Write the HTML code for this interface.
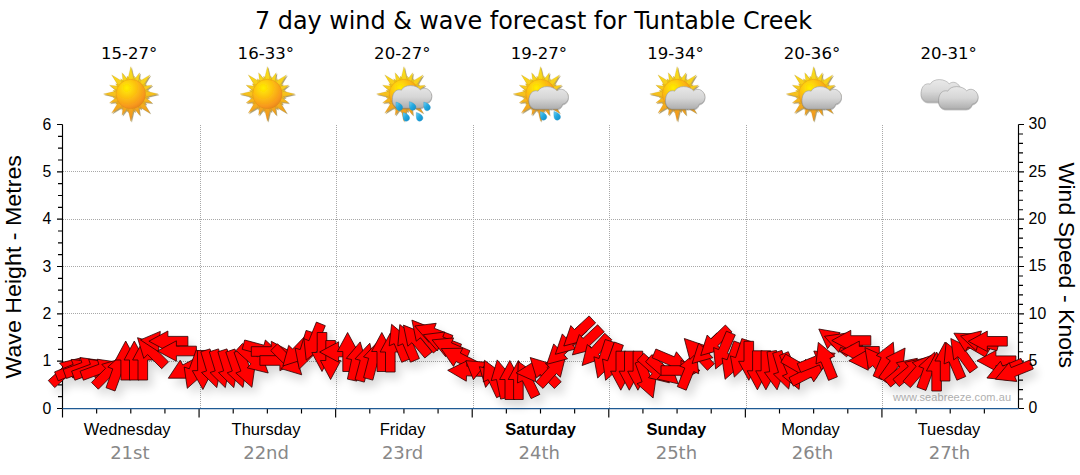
<!DOCTYPE html>
<html><head><meta charset="utf-8"><title>7 day wind &amp; wave forecast for Tuntable Creek</title>
<style>html,body{margin:0;padding:0;background:#fff;}svg{display:block}.ar{font-family:"Liberation Sans",Arial,sans-serif}.dw{font-family:"DejaVu Sans","Liberation Sans",sans-serif}.dv{font-family:"DejaVu Sans Condensed","DejaVu Sans","Liberation Sans",sans-serif}</style></head><body>
<svg width="1080" height="475" viewBox="0 0 1080 475">
<defs>

<radialGradient id="gSun" cx="-4" cy="-6" r="22" gradientUnits="userSpaceOnUse">
<stop offset="0" stop-color="#ffee00"/><stop offset="0.45" stop-color="#fcc010"/><stop offset="0.85" stop-color="#f7971d"/><stop offset="1" stop-color="#e8861c"/>
</radialGradient>
<linearGradient id="gRay" x1="0" y1="-27" x2="0" y2="27" gradientUnits="userSpaceOnUse">
<stop offset="0" stop-color="#f9e11a"/><stop offset="0.45" stop-color="#f7c61c"/><stop offset="1" stop-color="#f18f1f"/>
</linearGradient>
<linearGradient id="gCloud" x1="0" y1="-8" x2="0" y2="16" gradientUnits="userSpaceOnUse">
<stop offset="0" stop-color="#e9e9e9"/><stop offset="0.5" stop-color="#d6d6d6"/><stop offset="1" stop-color="#ababab"/>
</linearGradient>
<linearGradient id="gDrop" x1="-3" y1="-4" x2="3" y2="5" gradientUnits="userSpaceOnUse">
<stop offset="0" stop-color="#7fd4f5"/><stop offset="0.5" stop-color="#25aae1"/><stop offset="1" stop-color="#138cc8"/>
</linearGradient>
<filter id="fSoft" x="-20%" y="-20%" width="140%" height="140%"><feGaussianBlur stdDeviation="0.35"/></filter>
<filter id="fCl" x="-20%" y="-20%" width="140%" height="140%"><feGaussianBlur in="SourceAlpha" stdDeviation="0.6" result="b"/><feOffset in="b" dx="0.3" dy="0.5" result="o"/><feFlood flood-color="#555" flood-opacity="0.45"/><feComposite in2="o" operator="in" result="sh"/><feGaussianBlur in="SourceGraphic" stdDeviation="0.3" result="g"/><feMerge><feMergeNode in="sh"/><feMergeNode in="g"/></feMerge></filter>
<filter id="fSun" x="-20%" y="-20%" width="140%" height="140%"><feGaussianBlur in="SourceAlpha" stdDeviation="0.6" result="b"/><feOffset in="b" dx="0.5" dy="0.6" result="o"/><feFlood flood-color="#6b5200" flood-opacity="0.55"/><feComposite in2="o" operator="in" result="sh"/><feGaussianBlur in="SourceGraphic" stdDeviation="0.3" result="g"/><feMerge><feMergeNode in="sh"/><feMergeNode in="g"/></feMerge></filter>
<g id="sunshape" filter="url(#fSun)">
<path d="M3.40 -13.00L0.00 -27.30L-3.40 -13.00ZM11.60 -6.79L19.09 -19.09L6.79 -11.60ZM13.00 3.40L27.30 -0.00L13.00 -3.40ZM6.79 11.60L19.09 19.09L11.60 6.79ZM-3.40 13.00L0.00 27.30L3.40 13.00ZM-11.60 6.79L-19.09 19.09L-6.79 11.60ZM-13.00 -3.40L-27.30 0.00L-13.00 3.40ZM-6.79 -11.60L-19.09 -19.09L-11.60 -6.79ZM7.65 -10.90L8.80 -21.25L2.30 -13.12ZM13.12 -2.30L21.25 -8.80L10.90 -7.65ZM10.90 7.65L21.25 8.80L13.12 2.30ZM2.30 13.12L8.80 21.25L7.65 10.90ZM-7.65 10.90L-8.80 21.25L-2.30 13.12ZM-13.12 2.30L-21.25 8.80L-10.90 7.65ZM-10.90 -7.65L-21.25 -8.80L-13.12 -2.30ZM-2.30 -13.12L-8.80 -21.25L-7.65 -10.90ZM4.50 -12.36L3.57 -17.95L0.57 -13.14ZM8.89 -9.70L10.17 -15.22L5.56 -11.92ZM11.92 -5.56L15.22 -10.17L9.70 -8.89ZM13.14 -0.57L17.95 -3.57L12.36 -4.50ZM12.36 4.50L17.95 3.57L13.14 0.57ZM9.70 8.89L15.22 10.17L11.92 5.56ZM5.56 11.92L10.17 15.22L8.89 9.70ZM0.57 13.14L3.57 17.95L4.50 12.36ZM-4.50 12.36L-3.57 17.95L-0.57 13.14ZM-8.89 9.70L-10.17 15.22L-5.56 11.92ZM-11.92 5.56L-15.22 10.17L-9.70 8.89ZM-13.14 0.57L-17.95 3.57L-12.36 4.50ZM-12.36 -4.50L-17.95 -3.57L-13.14 -0.57ZM-9.70 -8.89L-15.22 -10.17L-11.92 -5.56ZM-5.56 -11.92L-10.17 -15.22L-8.89 -9.70ZM-0.57 -13.14L-3.57 -17.95L-4.50 -12.36Z" fill="url(#gRay)" stroke="#b98a1a" stroke-width="0.35" stroke-opacity="0.6"/>
<circle r="14.7" fill="url(#gSun)" stroke="#d98a14" stroke-width="0.5" stroke-opacity="0.7"/>
</g>
<g id="cloudshape" filter="url(#fCl)">
<path d="M-4 15.1C-8.5 15.1 -11.8 11.5 -11.6 6.5C-11.5 1.5 -9.5 -2.8 -5 -3.2C-4 -3.3 -3.2 -3.1 -2.5 -2.8C-1 -5.8 2.5 -7.4 6.5 -7.4C11 -7.4 14.5 -5.6 16.5 -3.2C18 -4.4 19.5 -4.8 21 -4.7C25 -4.4 28 -0.5 27.9 3.5C27.8 7 25.5 9.5 22 10.2C21.5 12.8 19 15.1 15.5 15.1Z" fill="url(#gCloud)" stroke="#999" stroke-width="0.6"/>
</g>
<path id="drop" d="M-1.6 -4.2C0.5 -3 3.2 -0.5 3.2 2C3.2 4 1.6 5.2 -0.2 5.2C-2.2 5.2 -3.4 3.6 -3.2 1.6C-3 -0.4 -2.2 -2.4 -1.6 -4.2Z" transform="rotate(-18)" fill="url(#gDrop)" stroke="#1a8fc9" stroke-width="0.3"/>
<g id="sun"><use href="#sunshape"/></g>
<g id="suncloud"><use href="#sunshape"/><use href="#cloudshape"/></g>
<g id="sunrain5"><use href="#sunshape"/><use href="#cloudshape" y="-1"/><use href="#drop" x="-5.1" y="11.6"/><use href="#drop" x="8.3" y="11.2"/><use href="#drop" x="22.7" y="11.6"/><use href="#drop" x="1.9" y="22"/><use href="#drop" x="15.2" y="22"/></g>
<g id="sunrain2"><use href="#sunshape"/><use href="#cloudshape"/><use href="#drop" x="2.5" y="21"/><use href="#drop" x="16.2" y="21"/></g>
<g id="clouds"><use href="#cloudshape" x="-17.5" y="-7" opacity="0.9"/><use href="#cloudshape"/></g>

</defs>
<rect width="1080" height="475" fill="#fff"/>
<text class="dv" x="533.5" y="29.2" font-size="25.5" text-anchor="middle" textLength="557" lengthAdjust="spacingAndGlyphs" fill="#000">7 day wind &amp; wave forecast for Tuntable Creek</text>
<text class="dw" x="101.0" y="58.8" font-size="15.6" textLength="56.4" lengthAdjust="spacingAndGlyphs" fill="#000">15-27°</text>
<use href="#sun" x="130.8" y="94"/>
<text class="dw" x="237.6" y="58.8" font-size="15.6" textLength="56.4" lengthAdjust="spacingAndGlyphs" fill="#000">16-33°</text>
<use href="#sun" x="267.4" y="94"/>
<text class="dw" x="374.1" y="58.8" font-size="15.6" textLength="56.4" lengthAdjust="spacingAndGlyphs" fill="#000">20-27°</text>
<use href="#sunrain5" x="403.9" y="94"/>
<text class="dw" x="510.7" y="58.8" font-size="15.6" textLength="56.4" lengthAdjust="spacingAndGlyphs" fill="#000">19-27°</text>
<use href="#sunrain2" x="540.5" y="94"/>
<text class="dw" x="647.3" y="58.8" font-size="15.6" textLength="56.4" lengthAdjust="spacingAndGlyphs" fill="#000">19-34°</text>
<use href="#suncloud" x="677.1" y="94"/>
<text class="dw" x="783.8" y="58.8" font-size="15.6" textLength="56.4" lengthAdjust="spacingAndGlyphs" fill="#000">20-36°</text>
<use href="#suncloud" x="813.6" y="94"/>
<text class="dw" x="920.4" y="58.8" font-size="15.6" textLength="56.4" lengthAdjust="spacingAndGlyphs" fill="#000">20-31°</text>
<use href="#clouds" x="950.2" y="94"/>
<path d="M62.5 361.2H1018.5 M62.5 313.8H1018.5 M62.5 266.5H1018.5 M62.5 219.2H1018.5 M62.5 171.8H1018.5 M200.1 124.5V408.5 M336.6 124.5V408.5 M473.2 124.5V408.5 M609.8 124.5V408.5 M746.4 124.5V408.5 M882.9 124.5V408.5" stroke="#a8a8a8" stroke-width="1" stroke-dasharray="1 1" fill="none" shape-rendering="crispEdges"/>
<text class="ar" x="893" y="400.5" font-size="11" fill="#b0b0b0" textLength="118" lengthAdjust="spacing">www.seabreeze.com.au</text>
<path d="M62.5 124.5V417.5 M57.0 408.50H62.5 M58.0 396.67H62.5 M58.0 384.83H62.5 M58.0 373.00H62.5 M57.0 361.17H62.5 M58.0 349.33H62.5 M58.0 337.50H62.5 M58.0 325.67H62.5 M57.0 313.83H62.5 M58.0 302.00H62.5 M58.0 290.17H62.5 M58.0 278.33H62.5 M57.0 266.50H62.5 M58.0 254.67H62.5 M58.0 242.83H62.5 M58.0 231.00H62.5 M57.0 219.17H62.5 M58.0 207.33H62.5 M58.0 195.50H62.5 M58.0 183.67H62.5 M57.0 171.83H62.5 M58.0 160.00H62.5 M58.0 148.17H62.5 M58.0 136.33H62.5 M57.0 124.50H62.5 M1018.5 124.5V408.5 M1018.5 408.50h5.5 M1018.5 399.03h4.5 M1018.5 389.57h4.5 M1018.5 380.10h4.5 M1018.5 370.63h4.5 M1018.5 361.17h5.5 M1018.5 351.70h4.5 M1018.5 342.23h4.5 M1018.5 332.77h4.5 M1018.5 323.30h4.5 M1018.5 313.83h5.5 M1018.5 304.37h4.5 M1018.5 294.90h4.5 M1018.5 285.43h4.5 M1018.5 275.97h4.5 M1018.5 266.50h5.5 M1018.5 257.03h4.5 M1018.5 247.57h4.5 M1018.5 238.10h4.5 M1018.5 228.63h4.5 M1018.5 219.17h5.5 M1018.5 209.70h4.5 M1018.5 200.23h4.5 M1018.5 190.77h4.5 M1018.5 181.30h4.5 M1018.5 171.83h5.5 M1018.5 162.37h4.5 M1018.5 152.90h4.5 M1018.5 143.43h4.5 M1018.5 133.97h4.5 M1018.5 124.50h5.5 M62.50 408.5v9 M96.64 408.5v5 M130.79 408.5v5 M164.93 408.5v5 M199.07 408.5v9 M233.21 408.5v5 M267.36 408.5v5 M301.50 408.5v5 M335.64 408.5v9 M369.79 408.5v5 M403.93 408.5v5 M438.07 408.5v5 M472.21 408.5v9 M506.36 408.5v5 M540.50 408.5v5 M574.64 408.5v5 M608.79 408.5v9 M642.93 408.5v5 M677.07 408.5v5 M711.21 408.5v5 M745.36 408.5v9 M779.50 408.5v5 M813.64 408.5v5 M847.79 408.5v5 M881.93 408.5v9 M916.07 408.5v5 M950.21 408.5v5 M984.36 408.5v5" stroke="#000" stroke-width="1.15" fill="none"/>
<path d="M62.5 408.5H1018.5" stroke="#1f5a94" stroke-width="1.25" fill="none"/>
<!--ARROWS-->
<filter id="fSh" x="-5%" y="-50%" width="110%" height="220%"><feGaussianBlur stdDeviation="5"/></filter>
<g transform="translate(5,7)" filter="url(#fSh)" opacity="0.15" fill="#000">
<polygon points="80.5,358.0 73.2,378.2 69.6,374.2 54.7,387.6 48.3,380.5 63.1,367.1 59.5,363.1"/>
<polygon points="92.6,361.7 78.8,378.3 76.8,373.3 58.2,380.8 54.6,371.9 73.2,364.4 71.1,359.4"/>
<polygon points="101.4,360.6 87.0,376.7 85.2,371.6 66.4,378.5 63.1,369.5 81.9,362.6 80.0,357.5"/>
<polygon points="109.9,362.3 95.5,378.4 93.7,373.3 74.9,380.2 71.6,371.2 90.4,364.3 88.6,359.2"/>
<polygon points="118.4,362.3 104.1,378.4 102.2,373.3 83.4,380.2 80.1,371.2 98.9,364.3 97.1,359.2"/>
<polygon points="122.4,358.2 116.2,378.9 112.4,375.0 98.3,389.2 91.5,382.4 105.6,368.3 101.8,364.4"/>
<polygon points="123.9,352.7 126.9,374.0 121.9,372.2 115.0,391.0 106.0,387.7 112.8,368.9 107.8,367.0"/>
<polygon points="125.7,341.0 135.9,360.0 130.5,360.0 130.5,380.0 120.9,380.0 120.9,360.0 115.5,360.0"/>
<polygon points="134.3,341.0 144.5,360.0 139.1,360.0 139.1,380.0 129.5,380.0 129.5,360.0 124.1,360.0"/>
<polygon points="142.8,341.0 153.0,360.0 147.6,360.0 147.6,380.0 138.0,380.0 138.0,360.0 132.6,360.0"/>
<polygon points="137.5,337.7 158.2,343.9 154.4,347.8 168.5,361.9 161.7,368.7 147.6,354.5 143.8,358.4"/>
<polygon points="140.4,339.9 160.3,331.4 159.8,336.8 179.7,338.5 178.9,348.1 158.9,346.3 158.5,351.7"/>
<polygon points="148.9,341.2 167.9,331.0 167.9,336.4 187.9,336.4 187.9,346.0 167.9,346.0 167.9,351.4"/>
<polygon points="157.4,351.0 176.4,340.8 176.4,346.2 196.4,346.2 196.4,355.8 176.4,355.8 176.4,361.2"/>
<polygon points="168.3,378.2 180.2,360.2 182.8,365.0 200.4,355.6 204.9,364.1 187.3,373.5 189.8,378.2"/>
<polygon points="187.3,388.3 184.2,367.0 189.3,368.8 196.2,350.0 205.2,353.3 198.3,372.1 203.4,374.0"/>
<polygon points="202.9,389.5 192.3,370.7 197.7,370.6 197.4,350.6 207.0,350.4 207.3,370.4 212.7,370.3"/>
<polygon points="216.8,387.6 201.5,372.5 206.6,370.9 200.8,351.8 210.0,348.9 215.8,368.1 221.0,366.5"/>
<polygon points="225.3,387.6 210.0,372.5 215.2,370.9 209.3,351.8 218.5,348.9 224.3,368.1 229.5,366.5"/>
<polygon points="233.8,387.6 218.5,372.5 223.7,370.9 217.9,351.8 227.0,348.9 232.9,368.1 238.0,366.5"/>
<polygon points="243.0,387.4 227.2,372.8 232.3,371.0 225.8,352.1 234.9,349.0 241.4,367.9 246.5,366.2"/>
<polygon points="251.9,387.3 235.8,373.0 240.9,371.1 234.0,352.3 243.1,349.0 249.9,367.8 255.0,366.0"/>
<polygon points="268.2,373.0 247.3,367.9 250.9,363.9 236.1,350.5 242.5,343.4 257.3,356.8 261.0,352.8"/>
<polygon points="281.1,354.7 260.1,359.7 261.5,354.5 242.2,349.3 244.7,340.0 264.0,345.2 265.4,340.0"/>
<polygon points="290.3,351.5 271.3,361.7 271.3,356.3 251.3,356.3 251.3,346.7 271.3,346.7 271.3,341.3"/>
<polygon points="298.9,360.5 279.9,370.7 279.9,365.3 259.9,365.3 259.9,355.7 279.9,355.7 279.9,350.3"/>
<polygon points="301.7,374.8 281.0,368.6 284.9,364.7 270.7,350.6 277.5,343.8 291.6,358.0 295.5,354.1"/>
<polygon points="282.9,366.0 288.7,345.3 292.6,349.0 306.5,334.6 313.4,341.3 299.5,355.7 303.4,359.4"/>
<polygon points="299.3,369.1 295.1,348.0 300.2,349.6 306.1,330.4 315.3,333.3 309.4,352.4 314.6,354.0"/>
<polygon points="306.2,360.1 303.9,338.6 308.9,340.7 316.4,322.1 325.3,325.7 317.8,344.3 322.8,346.3"/>
<polygon points="322.0,371.5 311.8,352.5 317.2,352.5 317.2,332.5 326.8,332.5 326.8,352.5 332.2,352.5"/>
<polygon points="330.6,379.5 320.4,360.5 325.8,360.5 325.8,340.5 335.4,340.5 335.4,360.5 340.8,360.5"/>
<polygon points="319.6,352.0 338.6,341.8 338.6,347.2 358.6,347.2 358.6,356.8 338.6,356.8 338.6,362.2"/>
<polygon points="347.6,332.5 357.8,351.5 352.4,351.5 352.4,371.5 342.8,371.5 342.8,351.5 337.4,351.5"/>
<polygon points="360.2,341.9 366.3,362.6 361.0,361.5 356.8,381.1 347.4,379.1 351.6,359.5 346.3,358.4"/>
<polygon points="369.8,343.2 374.7,364.2 369.5,362.8 364.3,382.1 355.0,379.6 360.2,360.3 355.0,358.9"/>
<polygon points="378.3,341.2 383.2,362.2 378.0,360.8 372.8,380.1 363.6,377.6 368.7,358.3 363.5,356.9"/>
<polygon points="381.8,332.5 392.0,351.5 386.6,351.5 386.6,371.5 377.0,371.5 377.0,351.5 371.6,351.5"/>
<polygon points="390.3,333.0 400.5,352.0 395.1,352.0 395.1,372.0 385.5,372.0 385.5,352.0 380.1,352.0"/>
<polygon points="391.6,324.3 408.1,338.1 403.1,340.1 410.6,358.7 401.7,362.3 394.2,343.7 389.2,345.8"/>
<polygon points="399.8,324.5 416.6,338.0 411.6,340.1 419.4,358.5 410.6,362.2 402.8,343.8 397.8,345.9"/>
<polygon points="403.4,325.1 423.4,333.1 419.3,336.5 432.1,351.9 424.8,358.0 411.9,342.7 407.8,346.2"/>
<polygon points="411.9,320.1 432.0,328.1 427.8,331.5 440.7,346.9 433.3,353.0 420.5,337.7 416.3,341.2"/>
<polygon points="414.8,326.0 436.2,323.3 434.3,328.3 452.9,335.5 449.5,344.5 430.8,337.3 428.9,342.3"/>
<polygon points="423.3,334.7 444.7,332.0 442.8,337.0 461.5,344.2 458.0,353.2 439.4,346.0 437.4,351.0"/>
<polygon points="432.1,339.9 453.6,337.9 451.5,342.9 469.9,350.7 466.1,359.5 447.7,351.7 445.6,356.7"/>
<polygon points="441.2,348.6 462.8,348.2 460.3,353.0 478.2,362.1 473.8,370.6 456.0,361.5 453.5,366.4"/>
<polygon points="447.7,370.3 467.0,360.8 466.8,366.2 486.8,366.9 486.5,376.5 466.5,375.8 466.3,381.2"/>
<polygon points="465.8,360.7 487.0,362.3 473.4,379.7"/>
<polygon points="479.3,366.7 498.4,370.7 485.6,387.4"/>
<polygon points="484.5,360.3 501.8,373.2 496.9,375.5 505.3,393.6 496.6,397.7 488.2,379.6 483.3,381.9"/>
<polygon points="497.2,359.9 511.2,376.4 505.9,377.5 510.0,397.1 500.6,399.1 496.5,379.5 491.2,380.6"/>
<polygon points="509.8,360.5 520.0,379.5 514.6,379.5 514.6,399.5 505.0,399.5 505.0,379.5 499.6,379.5"/>
<polygon points="518.4,360.5 528.6,379.5 523.2,379.5 523.2,399.5 513.6,399.5 513.6,379.5 508.2,379.5"/>
<polygon points="518.3,361.5 535.8,374.1 531.0,376.4 539.8,394.4 531.1,398.6 522.4,380.7 517.5,383.0"/>
<polygon points="516.0,372.9 534.2,361.4 534.6,366.7 554.5,365.4 555.2,374.9 535.3,376.3 535.6,381.7"/>
<polygon points="530.2,357.5 550.8,363.7 547.0,367.6 561.2,381.7 554.4,388.5 540.2,374.3 536.4,378.2"/>
<polygon points="565.6,356.2 560.4,377.2 556.4,373.5 543.0,388.4 535.9,382.0 549.3,367.1 545.3,363.5"/>
<polygon points="546.8,364.3 553.7,343.9 557.4,347.8 572.0,334.2 578.6,341.2 563.9,354.9 567.6,358.8"/>
<polygon points="555.3,354.3 562.3,333.9 565.9,337.8 580.6,324.2 587.1,331.2 572.5,344.9 576.2,348.8"/>
<polygon points="563.8,346.0 570.8,325.6 574.5,329.5 589.1,315.9 595.6,322.9 581.0,336.6 584.7,340.5"/>
<polygon points="572.4,354.9 579.3,334.5 583.0,338.4 597.6,324.8 604.2,331.8 589.6,345.5 593.2,349.4"/>
<polygon points="582.1,365.5 587.3,344.5 591.3,348.2 604.7,333.3 611.8,339.7 598.4,354.6 602.4,358.2"/>
<polygon points="597.7,378.0 593.9,356.8 599.0,358.5 605.2,339.5 614.3,342.4 608.1,361.5 613.3,363.1"/>
<polygon points="605.6,380.3 602.5,359.0 607.6,360.8 614.4,342.0 623.4,345.3 616.6,364.1 621.7,366.0"/>
<polygon points="620.8,390.2 610.6,371.2 616.0,371.2 616.0,351.2 625.6,351.2 625.6,371.2 631.0,371.2"/>
<polygon points="629.3,390.2 619.1,371.2 624.5,371.2 624.5,351.2 634.1,351.2 634.1,371.2 639.5,371.2"/>
<polygon points="637.9,390.2 627.7,371.2 633.1,371.2 633.1,351.2 642.7,351.2 642.7,371.2 648.1,371.2"/>
<polygon points="653.1,398.0 637.0,383.7 642.1,381.8 635.2,363.0 644.2,359.7 651.1,378.5 656.2,376.7"/>
<polygon points="669.4,382.8 648.5,377.7 652.1,373.7 637.2,360.3 643.7,353.2 658.5,366.6 662.1,362.6"/>
<polygon points="678.2,383.8 657.2,379.0 660.7,375.0 645.6,361.8 651.9,354.6 667.0,367.7 670.5,363.6"/>
<polygon points="690.0,368.6 668.5,370.6 670.6,365.6 652.2,357.8 655.9,349.0 674.3,356.8 676.4,351.8"/>
<polygon points="700.0,370.5 681.0,380.7 681.0,375.3 661.0,375.3 661.0,365.7 681.0,365.7 681.0,360.3"/>
<polygon points="696.4,352.2 698.7,373.7 693.7,371.6 686.2,390.2 677.3,386.6 684.8,368.0 679.8,366.0"/>
<polygon points="684.3,338.5 704.7,345.5 700.8,349.2 714.4,363.8 707.4,370.3 693.8,355.7 689.8,359.4"/>
<polygon points="692.1,363.5 698.7,343.0 702.5,346.9 716.8,333.0 723.5,339.9 709.1,353.8 712.9,357.7"/>
<polygon points="700.7,355.5 707.2,335.0 711.0,338.9 725.4,325.0 732.0,331.9 717.7,345.8 721.4,349.7"/>
<polygon points="715.6,368.9 713.6,347.5 718.6,349.6 726.4,331.2 735.3,334.9 727.4,353.3 732.4,355.4"/>
<polygon points="725.1,379.3 722.0,358.0 727.1,359.8 733.9,341.0 742.9,344.3 736.1,363.1 741.2,365.0"/>
<polygon points="734.3,377.1 730.4,355.9 735.6,357.6 741.8,338.6 750.9,341.5 744.7,360.6 749.8,362.2"/>
<polygon points="748.8,380.3 738.6,361.3 744.0,361.3 744.0,341.3 753.6,341.3 753.6,361.3 759.0,361.3"/>
<polygon points="757.4,389.8 747.2,370.8 752.6,370.8 752.6,350.8 762.2,350.8 762.2,370.8 767.6,370.8"/>
<polygon points="765.9,389.8 755.7,370.8 761.1,370.8 761.1,350.8 770.7,350.8 770.7,370.8 776.1,370.8"/>
<polygon points="777.1,389.8 764.4,372.4 769.7,371.7 767.0,351.9 776.5,350.5 779.3,370.3 784.6,369.6"/>
<polygon points="788.7,389.1 773.4,374.0 778.5,372.4 772.7,353.3 781.9,350.4 787.7,369.6 792.9,368.0"/>
<polygon points="799.1,389.4 782.3,375.9 787.3,373.8 779.5,355.4 788.3,351.7 796.1,370.1 801.1,368.0"/>
<polygon points="816.9,377.8 795.4,377.1 798.1,372.4 780.8,362.4 785.6,354.1 802.9,364.1 805.6,359.4"/>
<polygon points="825.9,364.1 813.7,381.9 811.2,377.0 793.4,386.1 789.0,377.6 806.8,368.5 804.4,363.7"/>
<polygon points="835.2,353.3 821.4,369.9 819.4,364.9 800.8,372.4 797.2,363.5 815.8,356.0 813.8,351.0"/>
<polygon points="818.3,342.4 834.9,356.2 829.9,358.2 837.4,376.8 828.5,380.4 821.0,361.8 816.0,363.9"/>
<polygon points="818.8,329.0 840.1,332.7 836.7,336.9 852.5,349.2 846.6,356.8 830.8,344.5 827.5,348.7"/>
<polygon points="824.4,336.3 845.7,333.2 843.9,338.3 862.7,345.2 859.4,354.2 840.6,347.3 838.8,352.4"/>
<polygon points="831.8,340.5 850.8,330.3 850.8,335.7 870.8,335.7 870.8,345.3 850.8,345.3 850.8,350.7"/>
<polygon points="840.3,351.3 859.3,341.1 859.3,346.5 879.3,346.5 879.3,356.1 859.3,356.1 859.3,361.5"/>
<polygon points="848.8,360.7 867.5,349.8 867.7,355.2 887.6,354.5 888.0,364.1 868.0,364.8 868.2,370.2"/>
<polygon points="864.9,347.6 884.6,356.3 880.3,359.7 892.6,375.4 885.1,381.3 872.8,365.6 868.5,368.9"/>
<polygon points="893.3,342.2 894.9,363.7 890.0,361.5 881.9,379.8 873.1,375.9 881.2,357.6 876.3,355.4"/>
<polygon points="905.1,348.0 902.6,369.4 898.2,366.3 886.7,382.7 878.8,377.2 890.3,360.8 885.9,357.7"/>
<polygon points="917.4,358.3 909.4,378.3 905.9,374.2 890.6,387.0 884.4,379.7 899.8,366.8 896.3,362.7"/>
<polygon points="925.9,357.9 917.9,377.9 914.5,373.8 899.2,386.6 893.0,379.3 908.3,366.4 904.8,362.3"/>
<polygon points="932.3,355.0 927.6,376.0 923.5,372.5 910.4,387.6 903.1,381.3 916.2,366.2 912.2,362.6"/>
<polygon points="934.7,352.1 937.8,373.4 932.8,371.6 925.9,390.4 916.9,387.1 923.7,368.3 918.7,366.4"/>
<polygon points="936.6,352.0 946.8,371.0 941.4,371.0 941.4,391.0 931.8,391.0 931.8,371.0 926.4,371.0"/>
<polygon points="945.1,342.0 955.3,361.0 949.9,361.0 949.9,381.0 940.3,381.0 940.3,361.0 934.9,361.0"/>
<polygon points="946.1,342.5 962.9,356.0 957.9,358.1 965.7,376.5 956.9,380.2 949.1,361.8 944.1,363.9"/>
<polygon points="950.8,338.5 970.2,347.9 965.8,351.1 977.6,367.3 969.8,372.9 958.0,356.7 953.7,359.9"/>
<polygon points="953.9,333.2 975.4,333.9 972.7,338.6 990.0,348.6 985.2,356.9 967.9,346.9 965.2,351.6"/>
<polygon points="960.5,336.0 981.4,331.0 980.0,336.2 999.4,341.4 996.9,350.7 977.6,345.5 976.2,350.7"/>
<polygon points="968.3,341.3 987.3,331.1 987.3,336.5 1007.3,336.5 1007.3,346.1 987.3,346.1 987.3,351.5"/>
<polygon points="976.9,360.7 995.9,350.5 995.9,355.9 1015.9,355.9 1015.9,365.5 995.9,365.5 995.9,370.9"/>
<polygon points="986.9,378.0 1000.5,361.2 1002.6,366.2 1021.0,358.4 1024.7,367.2 1006.3,375.0 1008.4,380.0"/>
<polygon points="995.4,379.2 1009.1,362.6 1011.2,367.6 1029.7,360.1 1033.3,369.0 1014.8,376.5 1016.8,381.5"/>
</g>
<g fill="#ff0000" stroke="#2a0000" stroke-width="0.8" stroke-linejoin="miter">
<polygon points="80.5,358.0 73.2,378.2 69.6,374.2 54.7,387.6 48.3,380.5 63.1,367.1 59.5,363.1"/>
<polygon points="92.6,361.7 78.8,378.3 76.8,373.3 58.2,380.8 54.6,371.9 73.2,364.4 71.1,359.4"/>
<polygon points="101.4,360.6 87.0,376.7 85.2,371.6 66.4,378.5 63.1,369.5 81.9,362.6 80.0,357.5"/>
<polygon points="109.9,362.3 95.5,378.4 93.7,373.3 74.9,380.2 71.6,371.2 90.4,364.3 88.6,359.2"/>
<polygon points="118.4,362.3 104.1,378.4 102.2,373.3 83.4,380.2 80.1,371.2 98.9,364.3 97.1,359.2"/>
<polygon points="122.4,358.2 116.2,378.9 112.4,375.0 98.3,389.2 91.5,382.4 105.6,368.3 101.8,364.4"/>
<polygon points="123.9,352.7 126.9,374.0 121.9,372.2 115.0,391.0 106.0,387.7 112.8,368.9 107.8,367.0"/>
<polygon points="125.7,341.0 135.9,360.0 130.5,360.0 130.5,380.0 120.9,380.0 120.9,360.0 115.5,360.0"/>
<polygon points="134.3,341.0 144.5,360.0 139.1,360.0 139.1,380.0 129.5,380.0 129.5,360.0 124.1,360.0"/>
<polygon points="142.8,341.0 153.0,360.0 147.6,360.0 147.6,380.0 138.0,380.0 138.0,360.0 132.6,360.0"/>
<polygon points="137.5,337.7 158.2,343.9 154.4,347.8 168.5,361.9 161.7,368.7 147.6,354.5 143.8,358.4"/>
<polygon points="140.4,339.9 160.3,331.4 159.8,336.8 179.7,338.5 178.9,348.1 158.9,346.3 158.5,351.7"/>
<polygon points="148.9,341.2 167.9,331.0 167.9,336.4 187.9,336.4 187.9,346.0 167.9,346.0 167.9,351.4"/>
<polygon points="157.4,351.0 176.4,340.8 176.4,346.2 196.4,346.2 196.4,355.8 176.4,355.8 176.4,361.2"/>
<polygon points="168.3,378.2 180.2,360.2 182.8,365.0 200.4,355.6 204.9,364.1 187.3,373.5 189.8,378.2"/>
<polygon points="187.3,388.3 184.2,367.0 189.3,368.8 196.2,350.0 205.2,353.3 198.3,372.1 203.4,374.0"/>
<polygon points="202.9,389.5 192.3,370.7 197.7,370.6 197.4,350.6 207.0,350.4 207.3,370.4 212.7,370.3"/>
<polygon points="216.8,387.6 201.5,372.5 206.6,370.9 200.8,351.8 210.0,348.9 215.8,368.1 221.0,366.5"/>
<polygon points="225.3,387.6 210.0,372.5 215.2,370.9 209.3,351.8 218.5,348.9 224.3,368.1 229.5,366.5"/>
<polygon points="233.8,387.6 218.5,372.5 223.7,370.9 217.9,351.8 227.0,348.9 232.9,368.1 238.0,366.5"/>
<polygon points="243.0,387.4 227.2,372.8 232.3,371.0 225.8,352.1 234.9,349.0 241.4,367.9 246.5,366.2"/>
<polygon points="251.9,387.3 235.8,373.0 240.9,371.1 234.0,352.3 243.1,349.0 249.9,367.8 255.0,366.0"/>
<polygon points="268.2,373.0 247.3,367.9 250.9,363.9 236.1,350.5 242.5,343.4 257.3,356.8 261.0,352.8"/>
<polygon points="281.1,354.7 260.1,359.7 261.5,354.5 242.2,349.3 244.7,340.0 264.0,345.2 265.4,340.0"/>
<polygon points="290.3,351.5 271.3,361.7 271.3,356.3 251.3,356.3 251.3,346.7 271.3,346.7 271.3,341.3"/>
<polygon points="298.9,360.5 279.9,370.7 279.9,365.3 259.9,365.3 259.9,355.7 279.9,355.7 279.9,350.3"/>
<polygon points="301.7,374.8 281.0,368.6 284.9,364.7 270.7,350.6 277.5,343.8 291.6,358.0 295.5,354.1"/>
<polygon points="282.9,366.0 288.7,345.3 292.6,349.0 306.5,334.6 313.4,341.3 299.5,355.7 303.4,359.4"/>
<polygon points="299.3,369.1 295.1,348.0 300.2,349.6 306.1,330.4 315.3,333.3 309.4,352.4 314.6,354.0"/>
<polygon points="306.2,360.1 303.9,338.6 308.9,340.7 316.4,322.1 325.3,325.7 317.8,344.3 322.8,346.3"/>
<polygon points="322.0,371.5 311.8,352.5 317.2,352.5 317.2,332.5 326.8,332.5 326.8,352.5 332.2,352.5"/>
<polygon points="330.6,379.5 320.4,360.5 325.8,360.5 325.8,340.5 335.4,340.5 335.4,360.5 340.8,360.5"/>
<polygon points="319.6,352.0 338.6,341.8 338.6,347.2 358.6,347.2 358.6,356.8 338.6,356.8 338.6,362.2"/>
<polygon points="347.6,332.5 357.8,351.5 352.4,351.5 352.4,371.5 342.8,371.5 342.8,351.5 337.4,351.5"/>
<polygon points="360.2,341.9 366.3,362.6 361.0,361.5 356.8,381.1 347.4,379.1 351.6,359.5 346.3,358.4"/>
<polygon points="369.8,343.2 374.7,364.2 369.5,362.8 364.3,382.1 355.0,379.6 360.2,360.3 355.0,358.9"/>
<polygon points="378.3,341.2 383.2,362.2 378.0,360.8 372.8,380.1 363.6,377.6 368.7,358.3 363.5,356.9"/>
<polygon points="381.8,332.5 392.0,351.5 386.6,351.5 386.6,371.5 377.0,371.5 377.0,351.5 371.6,351.5"/>
<polygon points="390.3,333.0 400.5,352.0 395.1,352.0 395.1,372.0 385.5,372.0 385.5,352.0 380.1,352.0"/>
<polygon points="391.6,324.3 408.1,338.1 403.1,340.1 410.6,358.7 401.7,362.3 394.2,343.7 389.2,345.8"/>
<polygon points="399.8,324.5 416.6,338.0 411.6,340.1 419.4,358.5 410.6,362.2 402.8,343.8 397.8,345.9"/>
<polygon points="403.4,325.1 423.4,333.1 419.3,336.5 432.1,351.9 424.8,358.0 411.9,342.7 407.8,346.2"/>
<polygon points="411.9,320.1 432.0,328.1 427.8,331.5 440.7,346.9 433.3,353.0 420.5,337.7 416.3,341.2"/>
<polygon points="414.8,326.0 436.2,323.3 434.3,328.3 452.9,335.5 449.5,344.5 430.8,337.3 428.9,342.3"/>
<polygon points="423.3,334.7 444.7,332.0 442.8,337.0 461.5,344.2 458.0,353.2 439.4,346.0 437.4,351.0"/>
<polygon points="432.1,339.9 453.6,337.9 451.5,342.9 469.9,350.7 466.1,359.5 447.7,351.7 445.6,356.7"/>
<polygon points="441.2,348.6 462.8,348.2 460.3,353.0 478.2,362.1 473.8,370.6 456.0,361.5 453.5,366.4"/>
<polygon points="447.7,370.3 467.0,360.8 466.8,366.2 486.8,366.9 486.5,376.5 466.5,375.8 466.3,381.2"/>
<polygon points="465.8,360.7 487.0,362.3 473.4,379.7"/>
<polygon points="479.3,366.7 498.4,370.7 485.6,387.4"/>
<polygon points="484.5,360.3 501.8,373.2 496.9,375.5 505.3,393.6 496.6,397.7 488.2,379.6 483.3,381.9"/>
<polygon points="497.2,359.9 511.2,376.4 505.9,377.5 510.0,397.1 500.6,399.1 496.5,379.5 491.2,380.6"/>
<polygon points="509.8,360.5 520.0,379.5 514.6,379.5 514.6,399.5 505.0,399.5 505.0,379.5 499.6,379.5"/>
<polygon points="518.4,360.5 528.6,379.5 523.2,379.5 523.2,399.5 513.6,399.5 513.6,379.5 508.2,379.5"/>
<polygon points="518.3,361.5 535.8,374.1 531.0,376.4 539.8,394.4 531.1,398.6 522.4,380.7 517.5,383.0"/>
<polygon points="516.0,372.9 534.2,361.4 534.6,366.7 554.5,365.4 555.2,374.9 535.3,376.3 535.6,381.7"/>
<polygon points="530.2,357.5 550.8,363.7 547.0,367.6 561.2,381.7 554.4,388.5 540.2,374.3 536.4,378.2"/>
<polygon points="565.6,356.2 560.4,377.2 556.4,373.5 543.0,388.4 535.9,382.0 549.3,367.1 545.3,363.5"/>
<polygon points="546.8,364.3 553.7,343.9 557.4,347.8 572.0,334.2 578.6,341.2 563.9,354.9 567.6,358.8"/>
<polygon points="555.3,354.3 562.3,333.9 565.9,337.8 580.6,324.2 587.1,331.2 572.5,344.9 576.2,348.8"/>
<polygon points="563.8,346.0 570.8,325.6 574.5,329.5 589.1,315.9 595.6,322.9 581.0,336.6 584.7,340.5"/>
<polygon points="572.4,354.9 579.3,334.5 583.0,338.4 597.6,324.8 604.2,331.8 589.6,345.5 593.2,349.4"/>
<polygon points="582.1,365.5 587.3,344.5 591.3,348.2 604.7,333.3 611.8,339.7 598.4,354.6 602.4,358.2"/>
<polygon points="597.7,378.0 593.9,356.8 599.0,358.5 605.2,339.5 614.3,342.4 608.1,361.5 613.3,363.1"/>
<polygon points="605.6,380.3 602.5,359.0 607.6,360.8 614.4,342.0 623.4,345.3 616.6,364.1 621.7,366.0"/>
<polygon points="620.8,390.2 610.6,371.2 616.0,371.2 616.0,351.2 625.6,351.2 625.6,371.2 631.0,371.2"/>
<polygon points="629.3,390.2 619.1,371.2 624.5,371.2 624.5,351.2 634.1,351.2 634.1,371.2 639.5,371.2"/>
<polygon points="637.9,390.2 627.7,371.2 633.1,371.2 633.1,351.2 642.7,351.2 642.7,371.2 648.1,371.2"/>
<polygon points="653.1,398.0 637.0,383.7 642.1,381.8 635.2,363.0 644.2,359.7 651.1,378.5 656.2,376.7"/>
<polygon points="669.4,382.8 648.5,377.7 652.1,373.7 637.2,360.3 643.7,353.2 658.5,366.6 662.1,362.6"/>
<polygon points="678.2,383.8 657.2,379.0 660.7,375.0 645.6,361.8 651.9,354.6 667.0,367.7 670.5,363.6"/>
<polygon points="690.0,368.6 668.5,370.6 670.6,365.6 652.2,357.8 655.9,349.0 674.3,356.8 676.4,351.8"/>
<polygon points="700.0,370.5 681.0,380.7 681.0,375.3 661.0,375.3 661.0,365.7 681.0,365.7 681.0,360.3"/>
<polygon points="696.4,352.2 698.7,373.7 693.7,371.6 686.2,390.2 677.3,386.6 684.8,368.0 679.8,366.0"/>
<polygon points="684.3,338.5 704.7,345.5 700.8,349.2 714.4,363.8 707.4,370.3 693.8,355.7 689.8,359.4"/>
<polygon points="692.1,363.5 698.7,343.0 702.5,346.9 716.8,333.0 723.5,339.9 709.1,353.8 712.9,357.7"/>
<polygon points="700.7,355.5 707.2,335.0 711.0,338.9 725.4,325.0 732.0,331.9 717.7,345.8 721.4,349.7"/>
<polygon points="715.6,368.9 713.6,347.5 718.6,349.6 726.4,331.2 735.3,334.9 727.4,353.3 732.4,355.4"/>
<polygon points="725.1,379.3 722.0,358.0 727.1,359.8 733.9,341.0 742.9,344.3 736.1,363.1 741.2,365.0"/>
<polygon points="734.3,377.1 730.4,355.9 735.6,357.6 741.8,338.6 750.9,341.5 744.7,360.6 749.8,362.2"/>
<polygon points="748.8,380.3 738.6,361.3 744.0,361.3 744.0,341.3 753.6,341.3 753.6,361.3 759.0,361.3"/>
<polygon points="757.4,389.8 747.2,370.8 752.6,370.8 752.6,350.8 762.2,350.8 762.2,370.8 767.6,370.8"/>
<polygon points="765.9,389.8 755.7,370.8 761.1,370.8 761.1,350.8 770.7,350.8 770.7,370.8 776.1,370.8"/>
<polygon points="777.1,389.8 764.4,372.4 769.7,371.7 767.0,351.9 776.5,350.5 779.3,370.3 784.6,369.6"/>
<polygon points="788.7,389.1 773.4,374.0 778.5,372.4 772.7,353.3 781.9,350.4 787.7,369.6 792.9,368.0"/>
<polygon points="799.1,389.4 782.3,375.9 787.3,373.8 779.5,355.4 788.3,351.7 796.1,370.1 801.1,368.0"/>
<polygon points="816.9,377.8 795.4,377.1 798.1,372.4 780.8,362.4 785.6,354.1 802.9,364.1 805.6,359.4"/>
<polygon points="825.9,364.1 813.7,381.9 811.2,377.0 793.4,386.1 789.0,377.6 806.8,368.5 804.4,363.7"/>
<polygon points="835.2,353.3 821.4,369.9 819.4,364.9 800.8,372.4 797.2,363.5 815.8,356.0 813.8,351.0"/>
<polygon points="818.3,342.4 834.9,356.2 829.9,358.2 837.4,376.8 828.5,380.4 821.0,361.8 816.0,363.9"/>
<polygon points="818.8,329.0 840.1,332.7 836.7,336.9 852.5,349.2 846.6,356.8 830.8,344.5 827.5,348.7"/>
<polygon points="824.4,336.3 845.7,333.2 843.9,338.3 862.7,345.2 859.4,354.2 840.6,347.3 838.8,352.4"/>
<polygon points="831.8,340.5 850.8,330.3 850.8,335.7 870.8,335.7 870.8,345.3 850.8,345.3 850.8,350.7"/>
<polygon points="840.3,351.3 859.3,341.1 859.3,346.5 879.3,346.5 879.3,356.1 859.3,356.1 859.3,361.5"/>
<polygon points="848.8,360.7 867.5,349.8 867.7,355.2 887.6,354.5 888.0,364.1 868.0,364.8 868.2,370.2"/>
<polygon points="864.9,347.6 884.6,356.3 880.3,359.7 892.6,375.4 885.1,381.3 872.8,365.6 868.5,368.9"/>
<polygon points="893.3,342.2 894.9,363.7 890.0,361.5 881.9,379.8 873.1,375.9 881.2,357.6 876.3,355.4"/>
<polygon points="905.1,348.0 902.6,369.4 898.2,366.3 886.7,382.7 878.8,377.2 890.3,360.8 885.9,357.7"/>
<polygon points="917.4,358.3 909.4,378.3 905.9,374.2 890.6,387.0 884.4,379.7 899.8,366.8 896.3,362.7"/>
<polygon points="925.9,357.9 917.9,377.9 914.5,373.8 899.2,386.6 893.0,379.3 908.3,366.4 904.8,362.3"/>
<polygon points="932.3,355.0 927.6,376.0 923.5,372.5 910.4,387.6 903.1,381.3 916.2,366.2 912.2,362.6"/>
<polygon points="934.7,352.1 937.8,373.4 932.8,371.6 925.9,390.4 916.9,387.1 923.7,368.3 918.7,366.4"/>
<polygon points="936.6,352.0 946.8,371.0 941.4,371.0 941.4,391.0 931.8,391.0 931.8,371.0 926.4,371.0"/>
<polygon points="945.1,342.0 955.3,361.0 949.9,361.0 949.9,381.0 940.3,381.0 940.3,361.0 934.9,361.0"/>
<polygon points="946.1,342.5 962.9,356.0 957.9,358.1 965.7,376.5 956.9,380.2 949.1,361.8 944.1,363.9"/>
<polygon points="950.8,338.5 970.2,347.9 965.8,351.1 977.6,367.3 969.8,372.9 958.0,356.7 953.7,359.9"/>
<polygon points="953.9,333.2 975.4,333.9 972.7,338.6 990.0,348.6 985.2,356.9 967.9,346.9 965.2,351.6"/>
<polygon points="960.5,336.0 981.4,331.0 980.0,336.2 999.4,341.4 996.9,350.7 977.6,345.5 976.2,350.7"/>
<polygon points="968.3,341.3 987.3,331.1 987.3,336.5 1007.3,336.5 1007.3,346.1 987.3,346.1 987.3,351.5"/>
<polygon points="976.9,360.7 995.9,350.5 995.9,355.9 1015.9,355.9 1015.9,365.5 995.9,365.5 995.9,370.9"/>
<polygon points="986.9,378.0 1000.5,361.2 1002.6,366.2 1021.0,358.4 1024.7,367.2 1006.3,375.0 1008.4,380.0"/>
<polygon points="995.4,379.2 1009.1,362.6 1011.2,367.6 1029.7,360.1 1033.3,369.0 1014.8,376.5 1016.8,381.5"/>
</g>
<text class="ar" x="51.3" y="413.5" font-size="15.8" text-anchor="end" fill="#000">0</text>
<text class="ar" x="51.3" y="366.2" font-size="15.8" text-anchor="end" fill="#000">1</text>
<text class="ar" x="51.3" y="318.8" font-size="15.8" text-anchor="end" fill="#000">2</text>
<text class="ar" x="51.3" y="271.5" font-size="15.8" text-anchor="end" fill="#000">3</text>
<text class="ar" x="51.3" y="224.2" font-size="15.8" text-anchor="end" fill="#000">4</text>
<text class="ar" x="51.3" y="176.8" font-size="15.8" text-anchor="end" fill="#000">5</text>
<text class="ar" x="51.3" y="129.5" font-size="15.8" text-anchor="end" fill="#000">6</text>
<text class="ar" x="1028.6" y="413.2" font-size="15.8" fill="#000">0</text>
<text class="ar" x="1028.6" y="365.9" font-size="15.8" fill="#000">5</text>
<text class="ar" x="1028.6" y="318.5" font-size="15.8" fill="#000">10</text>
<text class="ar" x="1028.6" y="271.2" font-size="15.8" fill="#000">15</text>
<text class="ar" x="1028.6" y="223.9" font-size="15.8" fill="#000">20</text>
<text class="ar" x="1028.6" y="176.5" font-size="15.8" fill="#000">25</text>
<text class="ar" x="1028.6" y="129.2" font-size="15.8" fill="#000">30</text>
<text class="ar" transform="translate(20.7,378.6) rotate(-90)" font-size="22.6" fill="#000" textLength="223.5" lengthAdjust="spacingAndGlyphs">Wave Height - Metres</text>
<text class="ar" transform="translate(1059.3,162.6) rotate(90)" font-size="22.6" fill="#000" textLength="205.5" lengthAdjust="spacingAndGlyphs">Wind Speed - Knots</text>
<text class="ar" x="127.2" y="435" font-size="16.5" text-anchor="middle" fill="#000">Wednesday</text>
<text class="dw" x="129.8" y="458.8" font-size="18" text-anchor="middle" fill="#888">21st</text>
<text class="ar" x="266.0" y="435" font-size="16.5" text-anchor="middle" fill="#000">Thursday</text>
<text class="dw" x="266.1" y="458.8" font-size="18" text-anchor="middle" fill="#888">22nd</text>
<text class="ar" x="402.6" y="435" font-size="16.5" text-anchor="middle" fill="#000">Friday</text>
<text class="dw" x="402.6" y="458.8" font-size="18" text-anchor="middle" fill="#888">23rd</text>
<text class="ar" x="540.6" y="435" font-size="16.5" text-anchor="middle" fill="#000" font-weight="bold">Saturday</text>
<text class="dw" x="539.2" y="458.8" font-size="18" text-anchor="middle" fill="#888">24th</text>
<text class="ar" x="676.3" y="435" font-size="16.5" text-anchor="middle" fill="#000" font-weight="bold">Sunday</text>
<text class="dw" x="676.4" y="458.8" font-size="18" text-anchor="middle" fill="#888">25th</text>
<text class="ar" x="810.5" y="435" font-size="16.5" text-anchor="middle" fill="#000">Monday</text>
<text class="dw" x="812.5" y="458.8" font-size="18" text-anchor="middle" fill="#888">26th</text>
<text class="ar" x="949.0" y="435" font-size="16.5" text-anchor="middle" fill="#000">Tuesday</text>
<text class="dw" x="949.4" y="458.8" font-size="18" text-anchor="middle" fill="#888">27th</text>
</svg></body></html>
